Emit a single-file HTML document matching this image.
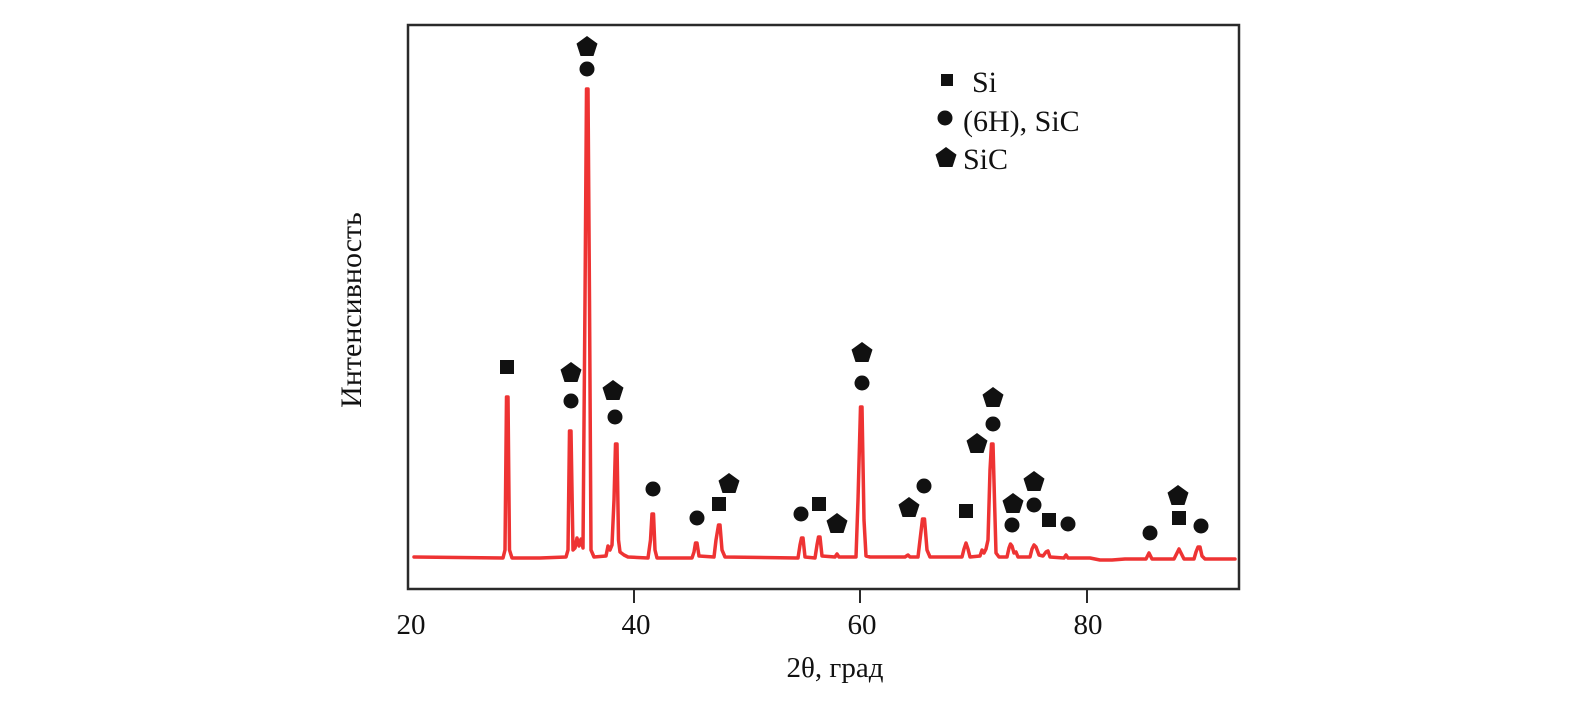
<!DOCTYPE html>
<html><head><meta charset="utf-8"><style>html,body{margin:0;padding:0;background:#fff}svg{display:block}</style></head>
<body>
<svg width="1594" height="706" viewBox="0 0 1594 706" xmlns="http://www.w3.org/2000/svg" font-family="'Liberation Serif', 'DejaVu Serif', serif" fill="#111">
<defs>
<polygon id="pg" points="0,-11 10.5,-3.4 6.5,9 -6.5,9 -10.5,-3.4"/>
</defs>
<rect x="408" y="25" width="831" height="564" fill="none" stroke="#2a2a2a" stroke-width="2.5"/>
<g stroke="#2a2a2a" stroke-width="2">
<line x1="634" y1="589" x2="634" y2="603"/>
<line x1="860" y1="589" x2="860" y2="603"/>
<line x1="1087" y1="589" x2="1087" y2="603"/>
</g>
<g font-size="29" text-anchor="middle">
<text x="411" y="634">20</text>
<text x="636" y="634">40</text>
<text x="862" y="634">60</text>
<text x="1088" y="634">80</text>
<text x="835" y="677">2θ, град</text>
<text transform="translate(361,310) rotate(-90)" font-size="30">Интенсивность</text>
</g>
<path fill="none" stroke="#ee3333" stroke-width="3.5" stroke-linejoin="round" stroke-linecap="round" d="
M414,557 L503,558 L505,550 L506.5,397 L508,397 L509.5,550 L512,558 L540,558 L566,557
L568,550 L569.5,431 L571,431 L573,550 L575,548 L577,538 L579,546 L581,539 L583,548
L585,300 L586.5,89 L588,89 L589.5,300 L591,550 L594,557 L606,556 L608,546 L610,550 L612,545
L614,500 L615.5,444 L617,444 L618.5,540 L620,552 L624,555 L628,557 L648,558
L650.5,540 L652,514 L653.5,514 L655,550 L657,558 L692,558 L694,552 L695.5,543 L697,543 L699,556 L714,557
L716,540 L718.5,525 L720,525 L722,550 L725,557 L798,558 L800,545 L801.5,538 L803,538 L805,557
L815,558 L817,545 L818.5,537 L820,537 L822,556 L835,557 L837,554 L839,557 L856,557
L858,500 L860.5,407 L862,407 L864,520 L866,556 L870,557 L905,557 L908,555 L910,557 L918,557
L920,540 L922.5,519 L924.5,519 L927,550 L930,557 L962,557 L964,549 L966,543 L968,549 L970,557
L980,556 L982,550 L984,553 L986,549 L988,540 L990,470 L991.5,444 L993,444 L994.5,500 L996,553
L999,557 L1007,557 L1009,548 L1010.5,544 L1012,546 L1014,553 L1016,552 L1018,557
L1030,557 L1032,549 L1034,545 L1036,547 L1039,555 L1043,556 L1046,552 L1048,551 L1050,557
L1064,558 L1066,555 L1068,558 L1090,558 L1100,560 L1112,560 L1125,559 L1146,559
L1148,555 L1149,553 L1150,555 L1152,559 L1174,559 L1177,553 L1179,549 L1181,553 L1184,559
L1194,559 L1196,552 L1198,547 L1200,547 L1202,556 L1205,559 L1235,559"/>
<g>
<rect x="500" y="360" width="14" height="14"/>
<use href="#pg" x="571" y="373"/><circle cx="571" cy="401" r="7.5"/>
<use href="#pg" x="587" y="47"/><circle cx="587" cy="69" r="7.5"/>
<use href="#pg" x="613" y="391"/><circle cx="615" cy="417" r="7.5"/>
<circle cx="653" cy="489" r="7.5"/>
<circle cx="697" cy="518" r="7.5"/>
<rect x="712" y="497" width="14" height="14"/><use href="#pg" x="729" y="484"/>
<circle cx="801" cy="514" r="7.5"/>
<rect x="812" y="497" width="14" height="14"/><use href="#pg" x="837" y="524"/>
<use href="#pg" x="862" y="353"/><circle cx="862" cy="383" r="7.5"/>
<use href="#pg" x="909" y="508"/><circle cx="924" cy="486" r="7.5"/>
<rect x="959" y="504" width="14" height="14"/>
<use href="#pg" x="977" y="444"/>
<use href="#pg" x="993" y="398"/><circle cx="993" cy="424" r="7.5"/>
<use href="#pg" x="1013" y="504"/><circle cx="1012" cy="525" r="7.5"/>
<use href="#pg" x="1034" y="482"/><circle cx="1034" cy="505" r="7.5"/>
<rect x="1042" y="513" width="14" height="14"/>
<circle cx="1068" cy="524" r="7.5"/>
<circle cx="1150" cy="533" r="7.5"/>
<use href="#pg" x="1178" y="496"/><rect x="1172" y="511" width="14" height="14"/>
<circle cx="1201" cy="526" r="7.5"/>
</g>
<g font-size="30">
<rect x="941" y="74" width="12" height="12"/>
<text x="972" y="92">Si</text>
<circle cx="945" cy="118" r="7.5"/>
<text x="963" y="131">(6H), SiC</text>
<use href="#pg" x="946" y="158"/>
<text x="963" y="169">SiC</text>
</g>
</svg>
</body></html>
